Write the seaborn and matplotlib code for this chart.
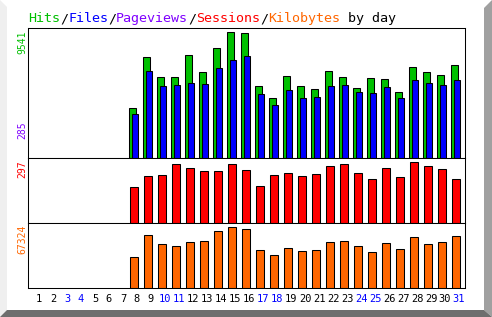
import pandas as pd
import seaborn as sns

import matplotlib
matplotlib.use('Agg')
import matplotlib.pyplot as plt
from matplotlib.patches import Polygon

# daily usage, days 1-7 have no traffic
days = list(range(1, 32))
hits = [0, 0, 0, 0, 0, 0, 0,
        3772, 7644, 6125, 6125, 7795, 6505, 8327, 9541, 9465, 5442, 4531, 6201,
        5442, 5215, 6581, 6125, 5290, 6049, 5973, 4987, 6884, 6505, 6277, 7036]
files = [0, 0, 0, 0, 0, 0, 0,
         3317, 6581, 5442, 5518, 5670, 5594, 6808, 7416, 7719, 4835, 4000, 5138,
         4531, 4607, 5442, 5518, 4987, 4911, 5366, 4531, 5897, 5670, 5518, 5897]
sessions = [0, 0, 0, 0, 0, 0, 0,
            175, 229, 234, 287, 268, 253, 253, 287, 258, 180, 234, 243,
            229, 239, 278, 287, 243, 214, 268, 224, 297, 278, 263, 214]
kbytes = [0, 0, 0, 0, 0, 0, 0,
          34214, 58495, 48562, 46355, 50769, 51873, 62909, 67324, 65117, 41940, 36422, 44148,
          40837, 41940, 50769, 51873, 46355, 39733, 49666, 43044, 56288, 48562, 50769, 57392]
pages_max = 285
weekend_days = [3, 4, 10, 11, 17, 18, 24, 25, 31]

GREEN = '#00c000'
BLUE = '#0000ff'
PURPLE = '#8000ff'
RED = '#ff0000'
ORANGE = '#ff6600'

W, H = 492, 317
MONO = 'DejaVu Sans Mono'

df = pd.DataFrame({'day': days, 'hits': hits, 'files': files,
                   'sessions': sessions, 'kbytes': kbytes})
act = df[df['hits'] > 0]

fig = plt.figure(figsize=(W / 100, H / 100), dpi=100)
fig.patch.set_facecolor('white')


def fx(px):
    return px / W


def fy(py):
    return 1 - py / H


# 3D-ish frame around the image
fig.add_artist(Polygon([(fx(0), fy(0)), (fx(7), fy(7)), (fx(7), fy(310)), (fx(0), fy(317))],
                       closed=True, transform=fig.transFigure, color='#efefef', lw=0))
fig.add_artist(Polygon([(fx(492), fy(0)), (fx(484), fy(8)), (fx(484), fy(310)), (fx(492), fy(317))],
                       closed=True, transform=fig.transFigure, color='#a0a0a0', lw=0))
fig.add_artist(Polygon([(fx(0), fy(317)), (fx(7), fy(310)), (fx(484), fy(310)), (fx(492), fy(317))],
                       closed=True, transform=fig.transFigure, color='#6e6e6e', lw=0))

left, right = 28, 465
panels = [(28, 158), (158, 223), (223, 288)]
axes = [fig.add_axes([fx(left), fy(b), fx(right - left), (b - t) / H]) for t, b in panels]
ax1, ax2, ax3 = axes

bar_kw = dict(native_scale=True, orient='x', saturation=1, errorbar=None,
              edgecolor='black', linewidth=0.75)

sns.barplot(x=act['day'] - 0.31, y=act['hits'], width=0.46, color=GREEN, ax=ax1, **bar_kw)
sns.barplot(x=act['day'] - 0.12, y=act['files'], width=0.42, color=BLUE, ax=ax1, **bar_kw)
sns.barplot(x=act['day'] - 0.21, y=act['sessions'], width=0.52, color=RED, ax=ax2, **bar_kw)
sns.barplot(x=act['day'] - 0.21, y=act['kbytes'], width=0.52, color=ORANGE, ax=ax3, **bar_kw)

ax1.set_ylim(0, max(hits) * 130 / 125.7)
ax2.set_ylim(0, max(sessions) * 65 / 61)
ax3.set_ylim(0, max(kbytes) * 65 / 61)

for ax in axes:
    ax.set_xlim(1 - 11 / 14, 31 + 6 / 14)
    ax.set_xlabel('')
    ax.set_ylabel('')
    ax.set_yticks([])
    ax.set_facecolor('white')
    for s in ax.spines.values():
        s.set_color('black')
        s.set_linewidth(0.75)
        s.set_visible(True)

ax1.set_xticks([])
ax2.set_xticks([])
ax3.set_xticks(days)
ax3.set_xticklabels([str(d) for d in days], fontfamily=MONO, fontsize=7.5)
ax3.tick_params(axis='x', length=0, pad=4.5)
for lab, d in zip(ax3.get_xticklabels(), days):
    lab.set_color(BLUE if d in weekend_days else 'black')

# multicoloured title, one mono character = 8 px
parts = [('Hits', GREEN), ('/', 'black'), ('Files', BLUE), ('/', 'black'),
         ('Pageviews', PURPLE), ('/', 'black'), ('Sessions', RED), ('/', 'black'),
         ('Kilobytes', ORANGE), (' by day', 'black')]
cx = 28
for txt, col in parts:
    fig.text(fx(cx), fy(22.3), txt, color=col, fontfamily=MONO, fontsize=9.6,
             ha='left', va='baseline')
    cx += 8.0 * len(txt)

# rotated max labels on the left
side = dict(rotation=90, fontfamily=MONO, fontsize=7, ha='center')
fig.text(fx(22), fy(31), str(max(hits)), color=GREEN, va='top', **side)
fig.text(fx(22), fy(139), str(pages_max), color=PURPLE, va='bottom', **side)
fig.text(fx(22), fy(160), str(max(sessions)), color=RED, va='top', **side)
fig.text(fx(22), fy(225), str(max(kbytes)), color=ORANGE, va='top', **side)

plt.savefig('out.png', dpi=100)
plt.close()
